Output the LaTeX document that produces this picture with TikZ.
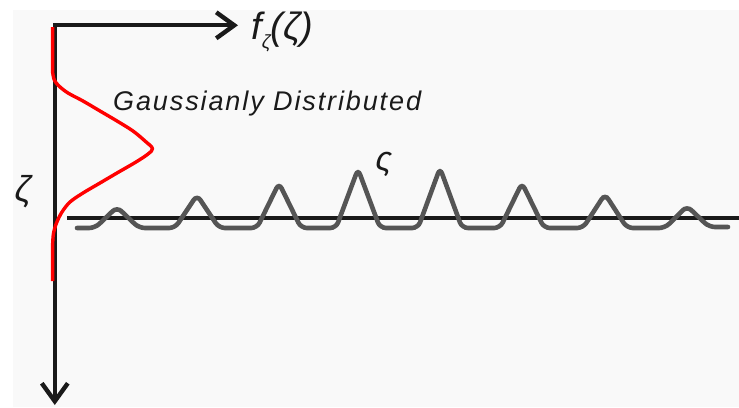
\documentclass[tikz,border=0pt]{standalone}
\usepackage{fontspec}
\setmainfont{Liberation Sans}
\newfontfamily\gfont[LetterSpace=7]{Liberation Sans}
\usetikzlibrary{arrows.meta}
\definecolor{bgc}{HTML}{F9F9F9}
\definecolor{wavec}{HTML}{555555}
\definecolor{axc}{HTML}{1A1A1A}
\tikzset{
  axis/.style={draw=axc, line width=3.8pt},
  tipbarb/.tip={Straight Barb[length=18pt,width=26pt,line width=4.4pt]},
  gauss/.style={draw=red, line width=3.4pt, line join=round},
  wave/.style={draw=wavec, line width=4.6pt, rounded corners=6pt, line cap=round},
  lbl/.style={inner sep=0pt, text=axc, font=\itshape},
}
\begin{document}
\begin{tikzpicture}[x=1pt,y=-1pt]
\useasboundingbox (0,0) rectangle (739,407);
\fill[white] (0,0) rectangle (739,407);
\fill[bgc] (13,10) rectangle (739,407);

% axes
\coordinate (xtip) at (238,25.3);
\coordinate (corner) at (54.8,25.3);
\coordinate (ytip) at (54.8,405);
\path[axis, tipbarb-tipbarb] (xtip) -- (corner) -- (ytip);

% baseline
\coordinate (bl0) at (67,218);
\coordinate (bl1) at (739,218);
\path[axis] (bl0) -- (bl1);

% gaussian
\path[gauss] (52.6,27) -- (52.6,72)
  plot[smooth, tension=0.55] coordinates {(52.6,72) (54.3,80) (59,86) (68,93) (83,101) (100,111) (117,121) (133,131) (145,141) (152.5,148.5) (148,154) (136,162) (117,173) (100,183) (83,193) (70,202) (62,212) (56.5,223) (53.4,234) (52.6,246)}
  -- (52.6,281);

% wave
\path[wave] (77,228) -- (95,228) -- (117,207) -- (139,228)
  -- (175,228) -- (197,195) -- (219,228)
  -- (257,228) -- (279,183) -- (301,228)
  -- (336,228) -- (358,169) -- (380,228)
  -- (418,228) -- (440,168) -- (462,228)
  -- (500,228) -- (522,183) -- (544,228)
  -- (583,228) -- (605,194) -- (627,228)
  -- (665,228) -- (687,206) -- (709,227) -- (728,227);

% labels
\node[lbl, anchor=base west, font=\gfont\itshape\fontsize{27}{32}\selectfont] (gd) at (113,110) {Gaussianly Distributed};
\node[lbl, anchor=base west, font=\itshape\fontsize{38}{42}\selectfont] (fz) at (251,39) {f\raisebox{-9pt}{\fontsize{19}{20}\selectfont ζ}(ζ)};
\node[lbl, anchor=base, font=\itshape\fontsize{36}{38}\selectfont] (zl) at (23,201) {ζ};
\node[lbl, anchor=base, font=\itshape\fontsize{34}{38}\selectfont] (sg) at (384,170) {ς};
\end{tikzpicture}
\end{document}
